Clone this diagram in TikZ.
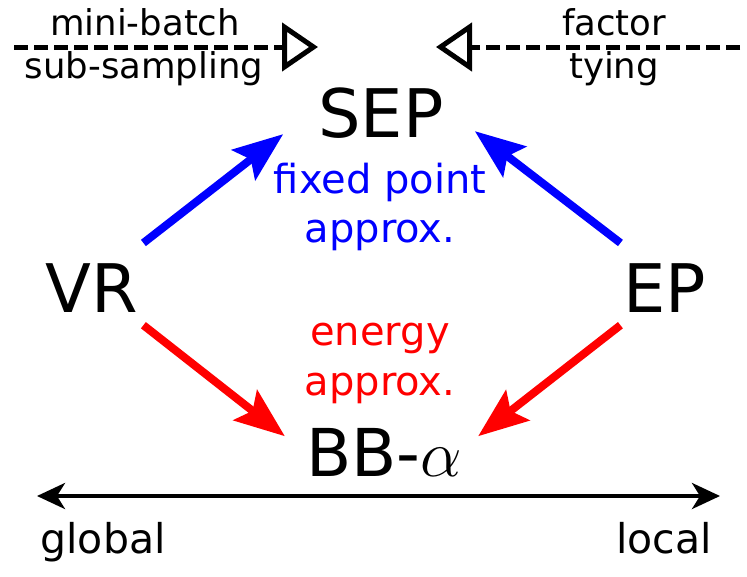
\RequirePackage{fix-cm}
\documentclass[tikz,border=0pt]{standalone}
\usepackage{fontspec}
\setmainfont{DejaVu Sans}
\usetikzlibrary{arrows.meta}
\definecolor{myblue}{RGB}{0,0,255}
\definecolor{myred}{RGB}{255,0,0}
\tikzset{
  bigtxt/.style={font=\fontsize{67}{80}\selectfont, inner sep=0pt, anchor=base},
  midtxt/.style={font=\fontsize{40}{48}\selectfont, inner sep=0pt, anchor=base},
  smalltxt/.style={font=\fontsize{35.5}{42}\selectfont, inner sep=0pt, anchor=base},
  bottxt/.style={font=\fontsize{41}{48}\selectfont, inner sep=0pt, anchor=base},
  fatarrow/.style={line width=8pt, -{Stealth[length=50pt,width=38pt,inset=9pt]}},
  dasharrow/.style={line width=5pt, dash pattern=on 14pt off 6pt, -{Triangle[open,length=36pt,width=48pt]}},
  scalearrow/.style={line width=4pt, {Stealth[length=28pt,width=26pt,inset=8pt]}-{Stealth[length=28pt,width=26pt,inset=8pt]}}
}
\begin{document}
\begin{tikzpicture}[x=1pt,y=-1pt]
\useasboundingbox (0,0) rectangle (747,576);
% main nodes
\node[bigtxt] (SEP) at (381,137) {SEP};
\node[bigtxt] (VR) at (92,312) {VR};
\node[bigtxt] (EP) at (665,312) {EP};
\node[bigtxt, font=\fontsize{66}{78}\selectfont] (BB) at (384,476) {BB-$\alpha$};
% labels
\node[midtxt, text=myblue] (fp1) at (380,193) {fixed point};
\node[midtxt, text=myblue] (fp2) at (380,242) {approx.};
\node[midtxt, text=myred] (en1) at (380,345) {energy};
\node[midtxt, text=myred] (en2) at (380,395) {approx.};
\node[smalltxt] (mb1) at (145,35) {mini-batch};
\node[smalltxt] (mb2) at (144,78) {sub-sampling};
\node[smalltxt] (ft1) at (614,35) {factor};
\node[smalltxt] (ft2) at (614,78) {tying};
\node[bottxt] (glob) at (103,553) {global};
\node[bottxt] (loc) at (664,553) {local};
% free ends
\coordinate (dl0) at (14,47);
\coordinate (dl1) at (318,47);
\coordinate (dr0) at (740,47);
\coordinate (dr1) at (436,47);
\coordinate (sl) at (37,496);
\coordinate (sr) at (720,496);
% arrows
\draw[dasharrow] (dl0) -- (dl1);
\draw[dasharrow] (dr0) -- (dr1);
\draw[fatarrow, myblue] ([shift={(5,-20)}]VR.north east) -- ([shift={(-35,-4)}]SEP.south west);
\draw[fatarrow, myblue] ([shift={(-3,-20)}]EP.north west) -- ([shift={(31,-7)}]SEP.south east);
\draw[fatarrow, myred] ([shift={(5,13)}]VR.south east) -- ([shift={(-21,-40)}]BB.south west);
\draw[fatarrow, myred] ([shift={(-3,13)}]EP.south west) -- ([shift={(16,-40)}]BB.south east);
\draw[scalearrow] (sl) -- (sr);
\end{tikzpicture}
\end{document}
